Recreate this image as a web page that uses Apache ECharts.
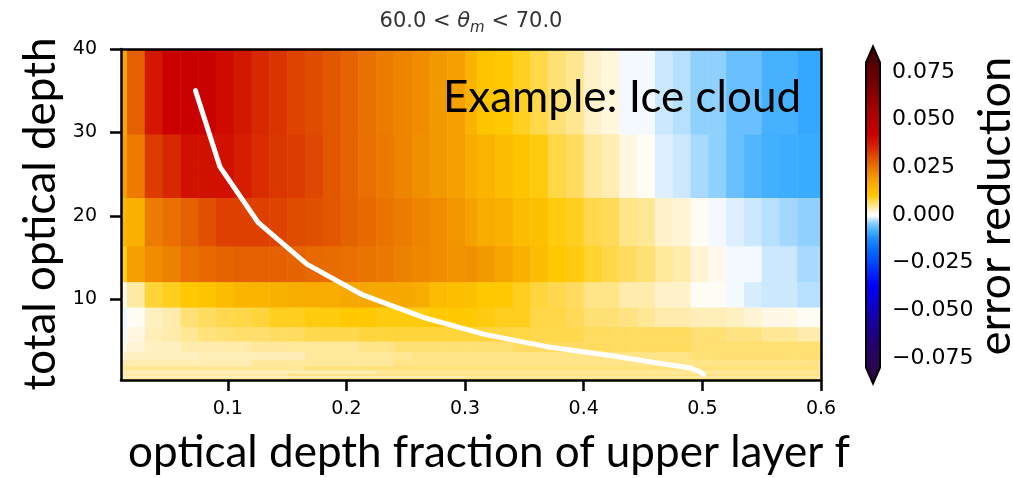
<!DOCTYPE html>
<html><head><meta charset="utf-8">
<script src="https://cdn.jsdelivr.net/npm/echarts@6/dist/echarts.min.js"></script>
<style>html,body{margin:0;padding:0;background:#fff;}#c{width:1013px;height:478px;}</style>
</head><body><div id="c"></div>
<script>
// ---- data ----
const xEdges = [0, 0.015, 0.03, 0.045, 0.06, 0.075, 0.09, 0.105, 0.12, 0.135, 0.15, 0.165, 0.18, 0.195, 0.21, 0.225, 0.24, 0.255, 0.27, 0.285, 0.3,
  0.31, 0.325, 0.34, 0.355, 0.37, 0.385, 0.4, 0.415, 0.43, 0.445, 0.46, 0.475, 0.49, 0.505, 0.52, 0.535, 0.55, 0.565, 0.58, 0.6];
const yEdges = [0.3, 0.61, 0.83, 1.12, 1.5, 2.03, 2.74, 3.7, 4.97, 6.7, 9.05, 12.1, 16.4, 22.2, 29.8, 40];

const errTau0_45 = [0.0045,0.0045,0.0045,0.0045,0.0045,0.0045,0.0045,0.0045,0.0045,0.0045,0.0055,0.0055,0.0055,0.0055,0.0055,0.0055,0.0055,0.0055,0.0055,0.0055,0.0055,0.0055,0.0055,0.0055,0.0055,0.0055,0.0055,0.0055,0.0055,0.0055,0.0055,0.0055,0.0055,0.0055,0.0055,0.0055,0.0055,0.0055,0.0055,0.0055];
const errTau0_71 = [0.003,0.003,0.003,0.003,0.003,0.003,0.003,0.003,0.003,0.003,0.003,0.003,0.003,0.003,0.003,0.003,0.003,0.003,0.003,0.003,0.004,0.004,0.004,0.004,0.004,0.004,0.004,0.004,0.004,0.004,0.004,0.004,0.004,0.004,0.004,0.004,0.004,0.004,0.004,0.004];
const errTau0_95 = [0.004,0.004,0.004,0.004,0.004,0.004,0.004,0.004,0.004,0.004,0.0052,0.0052,0.0052,0.0052,0.0052,0.0052,0.0052,0.0052,0.0052,0.0052,0.0052,0.0052,0.0052,0.0052,0.0052,0.0052,0.0052,0.0052,0.0052,0.0052,0.0052,0.0052,0.0052,0.0052,0.0052,0.0052,0.0052,0.0052,0.0052,0.0052];
const errTau1_29 = [0.0033,0.0033,0.0033,0.0033,0.0033,0.0033,0.0033,0.0033,0.0033,0.0033,0.0033,0.0033,0.0033,0.0033,0.0033,0.0043,0.0043,0.0043,0.0043,0.0043,0.0043,0.0043,0.0043,0.0043,0.0043,0.0043,0.0043,0.0043,0.0043,0.0043,0.0043,0.0043,0.0043,0.0043,0.0043,0.0043,0.0043,0.0043,0.0043,0.0043];
const errTau1_74 = [0.0045,0.0045,0.0045,0.0045,0.0045,0.0045,0.0045,0.0045,0.0045,0.0045,0.0045,0.0055,0.0055,0.0055,0.0055,0.0055,0.0055,0.0055,0.0055,0.0055,0.0055,0.0055,0.0055,0.0055,0.0055,0.0055,0.0055,0.0055,0.0055,0.0055,0.0055,0.0055,0.0055,0.0055,0.0055,0.0055,0.0055,0.0055,0.0055,0.0055];
const errTau2_35 = [0.0035,0.0035,0.0035,0.0035,0.0035,0.0035,0.0035,0.0035,0.0043,0.0043,0.0043,0.0043,0.0043,0.0043,0.0043,0.0043,0.005,0.005,0.005,0.005,0.005,0.005,0.005,0.005,0.005,0.005,0.005,0.005,0.005,0.005,0.005,0.005,0.005,0.005,0.005,0.005,0.005,0.005,0.005,0.005];
const errTau3_17 = [0.0026,0.003,0.003,0.003,0.003,0.0033,0.0033,0.0033,0.0033,0.0033,0.0033,0.0043,0.0043,0.0043,0.0043,0.0043,0.0045,0.005,0.005,0.005,0.005,0.005,0.005,0.005,0.005,0.005,0.005,0.005,0.005,0.005,0.005,0.005,0.005,0.0058,0.0058,0.0058,0.0058,0.0058,0.0058,0.0058];
const errTau4_28 = [0.0012,0.0022,0.003,0.003,0.0037,0.0037,0.0037,0.0037,0.0043,0.0043,0.0043,0.0043,0.0043,0.0043,0.005,0.005,0.0058,0.0058,0.0058,0.0058,0.0058,0.0058,0.0058,0.0067,0.0067,0.0067,0.0067,0.0067,0.0067,0.0067,0.0067,0.0067,0.0067,0.006,0.006,0.006,0.006,0.006,0.006,0.006];
const errTau5_78 = [-0.0008,0.0017,0.0033,0.0037,0.0045,0.0055,0.0058,0.0062,0.0062,0.0067,0.0067,0.0074,0.0074,0.0074,0.008,0.008,0.0081,0.0081,0.0081,0.0081,0.0081,0.008,0.0079,0.0078,0.0075,0.0075,0.0074,0.0067,0.0067,0.0067,0.0067,0.0067,0.0067,0.0058,0.0058,0.0052,0.0052,0.0045,0.0045,0.0037];
const errTau7_8 = [-0.001,0.0007,0.003,0.0037,0.0058,0.0067,0.0074,0.0076,0.0081,0.009,0.009,0.0095,0.0095,0.010,0.010,0.0095,0.0095,0.0095,0.010,0.010,0.010,0.0095,0.009,0.009,0.0077,0.0077,0.007,0.0058,0.0058,0.0052,0.0045,0.0037,0.0037,0.0033,0.0033,0.003,0.0022,0.0015,0.0015,0.0007];
const errTau10_5 = [0.0015,0.004,0.0082,0.009,0.010,0.011,0.013,0.0148,0.015,0.0155,0.016,0.0163,0.0165,0.017,0.017,0.0172,0.0172,0.0163,0.0135,0.0125,0.012,0.010,0.010,0.009,0.008,0.0074,0.0067,0.005,0.005,0.0037,0.0037,0.0026,0.0026,0.0007,0.0006,-0.0009,-0.0017,-0.002,-0.002,-0.0027];
const errTau14_2 = [0.009,0.0183,0.0215,0.023,0.0256,0.0265,0.0272,0.0278,0.0278,0.0278,0.0272,0.0265,0.026,0.0256,0.025,0.0244,0.023,0.022,0.0215,0.0203,0.021,0.0195,0.0177,0.0157,0.013,0.010,0.0095,0.0085,0.0076,0.0067,0.0058,0.0043,0.0037,0.0022,0.0012,-0.0008,-0.0008,-0.002,-0.002,-0.0032];
const errTau19_2 = [0.014,0.0157,0.0238,0.0256,0.0278,0.030,0.032,0.032,0.032,0.0315,0.0305,0.030,0.029,0.0275,0.0265,0.025,0.0238,0.0226,0.0215,0.020,0.0183,0.0163,0.0157,0.013,0.012,0.0095,0.009,0.0074,0.007,0.005,0.0045,0.0026,0.0022,0.0007,-0.0008,-0.0015,-0.002,-0.0027,-0.0034,-0.004];
const errTau25_9 = [0.018,0.024,0.0325,0.035,0.039,0.039,0.0392,0.037,0.0345,0.033,0.0325,0.031,0.0289,0.0272,0.0256,0.0244,0.0226,0.021,0.0197,0.0183,0.0163,0.015,0.013,0.011,0.0095,0.0078,0.0067,0.0043,0.0035,0.0017,0.0007,-0.0015,-0.002,-0.0032,-0.004,-0.006,-0.0075,-0.0085,-0.0088,-0.009];
const errTau35 = [0.017,0.0278,0.038,0.042,0.043,0.0434,0.040,0.0378,0.035,0.0335,0.0315,0.0305,0.0289,0.0272,0.0256,0.0238,0.0226,0.0215,0.0197,0.0183,0.015,0.011,0.010,0.0088,0.0075,0.0058,0.0047,0.0026,0.0019,-0.0008,-0.0008,-0.002,-0.0027,-0.004,-0.004,-0.006,-0.006,-0.0083,-0.0083,-0.0095];

const errRows = [errTau0_45, errTau0_71, errTau0_95, errTau1_29, errTau1_74, errTau2_35, errTau3_17, errTau4_28,
  errTau5_78, errTau7_8, errTau10_5, errTau14_2, errTau19_2, errTau25_9, errTau35];

// white curve
const lineF   = [0.0728, 0.0933, 0.1255, 0.1666, 0.2137, 0.265, 0.3156, 0.369, 0.424, 0.462, 0.49, 0.498, 0.501];
const lineTau = [35, 25.9, 19.2, 14.2, 10.5, 7.8, 5.8, 4.3, 3.2, 2.35, 1.74, 1.29, 0.95];

const xTicks = [0.1, 0.2, 0.3, 0.4, 0.5, 0.6];
const yTicks = [10, 20, 30, 40];
const cbRange = [-0.08, 0.08];

// colormap
const cmapStops = [
  [-0.08, '#2c0850'], [-0.067, '#22006e'], [-0.052, '#1400b4'], [-0.037, '#0000ff'], [-0.02, '#0064ff'],
  [-0.012, '#1e90ff'], [-0.009, '#3aacff'], [-0.006, '#6ac0ff'], [-0.004, '#90d0ff'], [-0.002, '#cce8ff'],
  [-0.001, '#f0f8ff'], [0, '#ffffff'], [0.0015, '#fff8e6'], [0.003, '#fff0c0'], [0.005, '#ffe488'],
  [0.0075, '#ffd84c'], [0.01, '#ffc800'], [0.015, '#fab400'], [0.02, '#f29600'], [0.025, '#ea7400'],
  [0.03, '#e05000'], [0.035, '#d82800'], [0.042, '#cc0000'], [0.055, '#a80000'], [0.07, '#700000'], [0.08, '#580000']
];
function hex2rgb(h){return [parseInt(h.slice(1,3),16),parseInt(h.slice(3,5),16),parseInt(h.slice(5,7),16)];}
function cmap(v){
  if (v <= cmapStops[0][0]) return cmapStops[0][1];
  for (let i = 1; i < cmapStops.length; i++) {
    if (v <= cmapStops[i][0]) {
      const a = cmapStops[i-1], b = cmapStops[i];
      const t = (v - a[0]) / (b[0] - a[0]);
      const ca = hex2rgb(a[1]), cb = hex2rgb(b[1]);
      return 'rgb(' + ca.map((c, k) => Math.round(c + (cb[k] - c) * t)).join(',') + ')';
    }
  }
  return cmapStops[cmapStops.length-1][1];
}

const cellData = [];
errRows.forEach((row, r) => row.forEach((v, c) => {
  cellData.push([xEdges[c], xEdges[c+1], yEdges[r], yEdges[r+1], v]);
}));
const lineData = lineF.map((f, i) => [f, lineTau[i]]);

const chart = echarts.init(document.getElementById('c'), null, {renderer: 'canvas'});
const tickFont = 'DejaVu Sans';

const option = {
  animation: false,
  grid: [
    {left: 121, top: 49, width: 700, height: 331},
    {left: 866, top: 72, width: 14, height: 286}
  ],
  xAxis: [
    {gridIndex: 0, type: 'value', min: 0.01, max: 0.6, position: 'bottom', z: 5,
     axisLine: {show: true, onZero: false, lineStyle: {color: '#000', width: 2.5}},
     axisTick: {show: true, customValues: xTicks, length: 11, lineStyle: {color: '#000', width: 2.5}},
     axisLabel: {customValues: xTicks, formatter: v => v.toFixed(1), fontFamily: tickFont, fontSize: 19, color: '#000', margin: 20},
     splitLine: {show: false}},
    {gridIndex: 0, type: 'value', min: 0.01, max: 0.6, position: 'top', z: 5,
     axisLine: {show: true, onZero: false, lineStyle: {color: '#000', width: 2.5}},
     axisTick: {show: false}, axisLabel: {show: false}, splitLine: {show: false}},
    {gridIndex: 1, type: 'value', min: 0, max: 1, show: false}
  ],
  yAxis: [
    {gridIndex: 0, type: 'value', min: 0.3, max: 40, position: 'left', z: 5,
     axisLine: {show: true, onZero: false, lineStyle: {color: '#000', width: 2.5}},
     axisTick: {show: true, customValues: yTicks, length: 11, lineStyle: {color: '#000', width: 2.5}},
     axisLabel: {customValues: yTicks, fontFamily: tickFont, fontSize: 19, color: '#000', margin: 24},
     splitLine: {show: false}},
    {gridIndex: 0, type: 'value', min: 0.3, max: 40, position: 'right', z: 5,
     axisLine: {show: true, onZero: false, lineStyle: {color: '#000', width: 2.5}},
     axisTick: {show: false}, axisLabel: {show: false}, splitLine: {show: false}},
    {gridIndex: 1, type: 'value', min: -0.075, max: 0.075, interval: 0.025, position: 'right',
     axisLine: {show: false}, axisTick: {show: false}, splitLine: {show: false},
     axisLabel: {fontFamily: tickFont, fontSize: 22, color: '#000', margin: 12,
       formatter: v => Math.abs(v) < 1e-9 ? '0.000' : (v < 0 ? '\u2212' : '') + Math.abs(v).toFixed(3)}}
  ],
  series: [
    {type: 'custom', xAxisIndex: 0, yAxisIndex: 0, z: 2, silent: true,
     encode: {x: [0, 1], y: [2, 3]},
     data: cellData,
     renderItem: function (params, api) {
       const p0 = api.coord([api.value(0), api.value(3)]);
       const p1 = api.coord([api.value(1), api.value(2)]);
       const cs = params.coordSys;
       const l = Math.max(p0[0], cs.x), r = Math.min(p1[0], cs.x + cs.width);
       const t = Math.max(p0[1], cs.y), b = Math.min(p1[1], cs.y + cs.height);
       return {type: 'rect', shape: {x: l, y: t, width: r - l + 0.5, height: b - t + 0.5},
               style: {fill: cmap(api.value(4))}};
     }},
    {type: 'line', xAxisIndex: 0, yAxisIndex: 0, z: 4, silent: true, data: lineData,
     showSymbol: false, symbol: 'none',
     lineStyle: {color: '#ffffff', width: 5, cap: 'round', join: 'round'}},
    {type: 'custom', xAxisIndex: 2, yAxisIndex: 2, z: 3, silent: true,
     data: [[0, 1, cbRange[0], cbRange[1]]],
     renderItem: function (params, api) {
       const pt = api.coord([api.value(0), api.value(3)]);
       const pb = api.coord([api.value(1), api.value(2)]);
       const x0 = pt[0], x1 = pb[0], yT = pt[1], yB = pb[1], xm = (x0 + x1) / 2, tip = 16;
       const lo = api.value(2), hi = api.value(3);
       const stops = cmapStops.map(s => ({offset: (hi - s[0]) / (hi - lo), color: s[1]})).reverse();
       return {type: 'group', children: [
         {type: 'rect', shape: {x: x0, y: yT, width: x1 - x0, height: yB - yT},
          style: {fill: new echarts.graphic.LinearGradient(0, 0, 0, 1, stops)}},
         {type: 'polygon', shape: {points: [[x0, yT + 0.5], [xm, yT - tip], [x1, yT + 0.5]]}, style: {fill: '#4a0000'}},
         {type: 'polygon', shape: {points: [[x0, yB - 0.5], [xm, yB + tip], [x1, yB - 0.5]]}, style: {fill: '#2a0648'}},
         {type: 'polygon', shape: {points: [[x0, yT], [xm, yT - tip], [x1, yT], [x1, yB], [xm, yB + tip], [x0, yB]]},
          style: {fill: null, stroke: '#000', lineWidth: 2}}
       ]};
     }}
  ],
  graphic: [
    {type: 'text', x: 471, y: 22, z: 10,
     style: {text: '60.0 < {it|θ}{sub|m} < 70.0', align: 'center', verticalAlign: 'middle',
       font: '21px "DejaVu Sans"', fill: '#333',
       rich: {it: {fontStyle: 'italic', fontSize: 21, fontFamily: tickFont, fill: '#333', lineHeight: 27},
              sub: {fontStyle: 'italic', fontSize: 15, fontFamily: tickFont, fill: '#333', verticalAlign: 'bottom', lineHeight: 17}}}},
    {type: 'text', x: 622, y: 98, z: 10,
     style: {text: 'Example: Ice cloud', align: 'center', verticalAlign: 'middle', font: '44px Lato', fill: '#000'}},
    {type: 'text', x: 489, y: 453, z: 10,
     style: {text: 'optical depth fraction of upper layer f', align: 'center', verticalAlign: 'middle', font: '44px Lato', fill: '#000'}},
    {type: 'text', x: 41, y: 214, rotation: Math.PI / 2, z: 10,
     style: {text: 'total optical depth', align: 'center', verticalAlign: 'middle', font: '44px Lato', fill: '#000'}},
    {type: 'text', x: 995, y: 206, rotation: Math.PI / 2, z: 10,
     style: {text: 'error reduction', align: 'center', verticalAlign: 'middle', font: '45px Lato', fill: '#000'}}
  ]
};
chart.setOption(option);
</script>
</body></html>
